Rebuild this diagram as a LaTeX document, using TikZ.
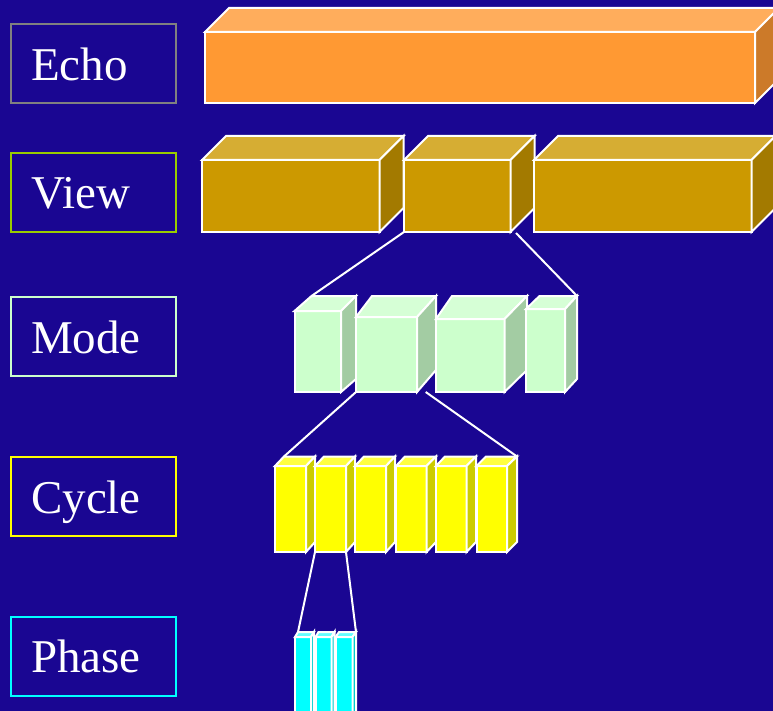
\documentclass[tikz,border=0pt]{standalone}
\usepackage{fontspec}
\setmainfont{Liberation Serif}
\definecolor{bg}{RGB}{26,6,146}
\tikzset{
  cubeedge/.style={draw=white, line width=2pt, line join=miter},
  lbl/.style={draw, line width=2pt, minimum width=165pt, minimum height=79pt, inner sep=0pt, anchor=north west},
  lbltext/.style={text=white, font=\fontsize{47}{50}\selectfont, inner sep=0pt, anchor=base west},
  conn/.style={draw=white, line width=2pt}
}
% #1 name, #2 x1, #3 front top y, #4 x2, #5 front bottom y, #6 back-left x, #7 back-right x, #8 back top y, #9 back bottom y
\newcommand\cubebox[9]{%
  \coordinate (#1-fbl) at (#2,#5);
  \coordinate (#1-fbr) at (#4,#5);
  \coordinate (#1-btl) at (#6,#8);
  \coordinate (#1-btr) at (#7,#8);
  \filldraw[cubeedge, fill=cfront] (#2,#3) rectangle (#4,#5);
  \filldraw[cubeedge, fill=ctop] (#2,#3) -- (#6,#8) -- (#7,#8) -- (#4,#3) -- cycle;
  \filldraw[cubeedge, fill=cside] (#4,#3) -- (#7,#8) -- (#7,#9) -- (#4,#5) -- cycle;
}
\begin{document}
\begin{tikzpicture}[x=1pt,y=-1pt]
\useasboundingbox (0,0) rectangle (773,711);
\clip (0,0) rectangle (773,711);
\fill[bg] (0,0) rectangle (773,711);

% labels
\node[lbl, draw={rgb,255:red,128;green,128;blue,128}] (lEcho) at (10,23) {};
\node[lbltext] (tEcho) at (31,81) {Echo};
\node[lbl, draw={rgb,255:red,153;green,204;blue,0}] (lView) at (10,152) {};
\node[lbltext] (tView) at (31,209) {View};
\node[lbl, draw={rgb,255:red,204;green,255;blue,204}] (lMode) at (10,296) {};
\node[lbltext] (tMode) at (31,353) {Mode};
\node[lbl, draw={rgb,255:red,255;green,255;blue,0}] (lCycle) at (10,456) {};
\node[lbltext] (tCycle) at (31,513) {Cycle};
\node[lbl, draw={rgb,255:red,0;green,255;blue,255}] (lPhase) at (10,616) {};
\node[lbltext] (tPhase) at (31,672) {Phase};

% Echo
\colorlet{cfront}{rgb,255:red,255;green,153;blue,51}
\colorlet{ctop}{rgb,255:red,255;green,173;blue,92}
\colorlet{cside}{rgb,255:red,204;green,122;blue,41}
\cubebox{e}{205}{32}{755}{103}{229}{779}{8}{79}

% View
\colorlet{cfront}{rgb,255:red,204;green,153;blue,0}
\colorlet{ctop}{rgb,255:red,214;green,173;blue,51}
\colorlet{cside}{rgb,255:red,163;green,122;blue,0}
\cubebox{v1}{202}{160}{379.5}{232}{226}{403.5}{136}{208}
\cubebox{v2}{404}{160}{510.5}{232}{428}{534.5}{136}{208}
\cubebox{v3}{534}{160}{751.5}{232}{558}{775.5}{136}{208}

% Mode
\colorlet{cfront}{rgb,255:red,204;green,255;blue,204}
\colorlet{ctop}{rgb,255:red,214;green,255;blue,214}
\colorlet{cside}{rgb,255:red,163;green,204;blue,163}
\cubebox{m1}{294.5}{311}{341}{392}{311.5}{356}{296}{379}
\cubebox{m2}{356}{317}{417}{392}{372}{436}{296}{370}
\cubebox{m3}{436}{319}{504.5}{392}{452}{527}{296}{370}
\cubebox{m4}{526}{309}{565}{392}{539.5}{577}{296}{379}

% Cycle
\colorlet{cfront}{rgb,255:red,255;green,255;blue,0}
\colorlet{ctop}{rgb,255:red,255;green,255;blue,64}
\colorlet{cside}{rgb,255:red,204;green,204;blue,0}
\cubebox{c1}{275}{466}{306}{552}{284}{315}{456.5}{542}
\cubebox{c2}{315}{466}{346}{552}{324}{355}{456.5}{542}
\cubebox{c3}{355}{466}{386}{552}{364}{395}{456.5}{542}
\cubebox{c4}{396}{466}{426.5}{552}{405}{436}{456.5}{542}
\cubebox{c5}{436}{466}{466.5}{552}{445}{476}{456.5}{542}
\cubebox{c6}{476.5}{466}{507}{552}{486}{517}{456.5}{542}

% Phase
\colorlet{cfront}{rgb,255:red,0;green,255;blue,255}
\colorlet{ctop}{rgb,255:red,102;green,255;blue,255}
\colorlet{cside}{rgb,255:red,0;green,204;blue,204}
\cubebox{p1}{295}{637}{311}{730}{298}{314}{632}{725}
\cubebox{p2}{315.5}{637}{331.5}{730}{318.5}{334.5}{632}{725}
\cubebox{p3}{335.5}{637}{352.5}{730}{339}{356}{632}{725}

% connectors
\coordinate (vR) at (516,233);
\coordinate (mR) at (425.7,392);
\draw[conn] (v2-fbl) -- (m1-btl);
\draw[conn] (vR) -- (m4-btr);
\draw[conn] (m2-fbl) -- (c1-btl);
\draw[conn] (mR) -- (c6-btr);
\draw[conn] (c2-fbl) -- (p1-btl);
\draw[conn] (c2-fbr) -- (p3-btr);
\end{tikzpicture}
\end{document}
